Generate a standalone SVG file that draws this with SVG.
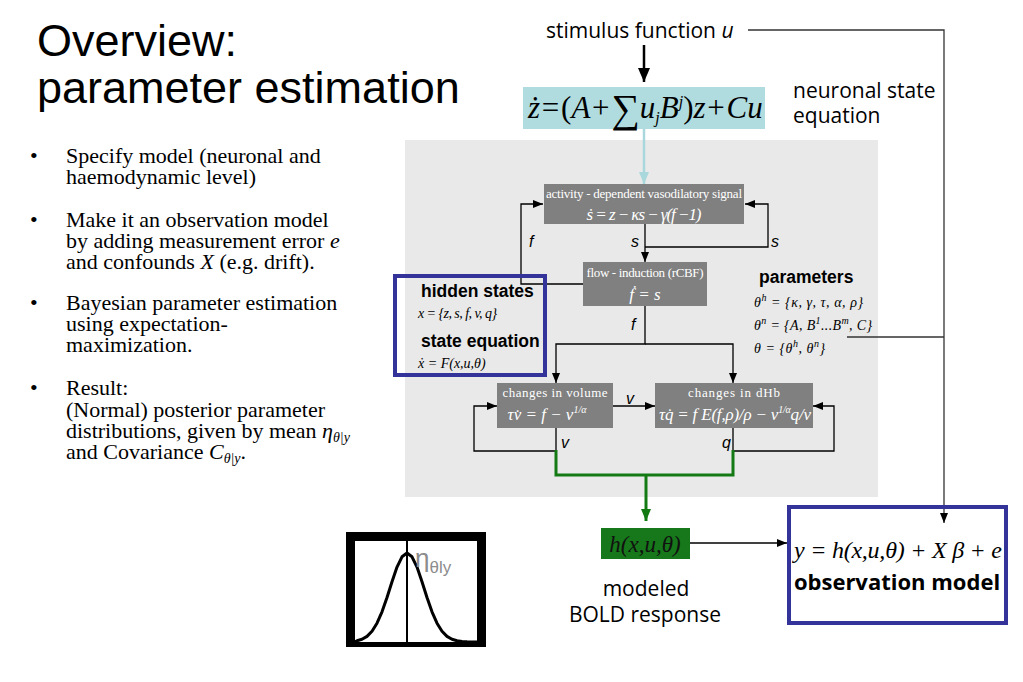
<svg xmlns="http://www.w3.org/2000/svg" width="1023" height="682" viewBox="0 0 1023 682">
<defs>
<marker id="ah" markerUnits="userSpaceOnUse" markerWidth="10" markerHeight="8" refX="10" refY="4" orient="auto"><path d="M0,0 L10,4 L0,8 z" fill="#000"/></marker>
<marker id="ahBig" markerUnits="userSpaceOnUse" markerWidth="14" markerHeight="12" refX="14" refY="6" orient="auto"><path d="M0,0 L14,6 L0,12 z" fill="#000"/></marker>
<marker id="ahG" markerUnits="userSpaceOnUse" markerWidth="12" markerHeight="10" refX="12" refY="5" orient="auto"><path d="M0,0 L12,5 L0,10 z" fill="#137a13"/></marker>
<marker id="ahC" markerUnits="userSpaceOnUse" markerWidth="12" markerHeight="10" refX="12" refY="5" orient="auto"><path d="M0,0 L12,5 L0,10 z" fill="#a8d8dc"/></marker>
</defs>
<style>
.title{font-family:"Liberation Sans",Arial,sans-serif;font-size:45px;fill:#000}
.bul{font-family:"Liberation Serif","Times New Roman",serif;font-size:22px;fill:#000}
.hum{font-family:"Open Sans","Noto Sans",sans-serif;font-size:21px;fill:#000}
.humb{font-family:"Open Sans","Noto Sans",sans-serif;font-size:22px;font-weight:bold;fill:#000}
.box{fill:#808080}
.bt{font-family:"Liberation Serif","Times New Roman",serif;font-size:13px;fill:#fff;text-anchor:middle}
.be{font-family:"Liberation Serif","Times New Roman",serif;font-size:17px;font-style:italic;fill:#fff;text-anchor:middle}
.lbl{font-family:"Liberation Sans",Arial,sans-serif;font-style:italic;font-size:16px;fill:#000}
.ln{stroke:#000;stroke-width:1.3;fill:none}
.lnr{stroke:#333;stroke-width:1.3;fill:none}
.gr{stroke:#137a13;stroke-width:3;fill:none}
.blue{fill:none;stroke:#333399;stroke-width:4}
.hs{font-family:"Liberation Sans",Arial,sans-serif;font-weight:bold;font-size:17.5px;fill:#000}
.m{font-family:"Liberation Serif","Times New Roman",serif;font-size:14px;font-style:italic;fill:#000}
.i{font-style:italic}
</style>
<rect x="0" y="0" width="1023" height="682" fill="#fff"/>

<g id="title">
<text class="title" x="37" y="56">Overview:</text>
<text class="title" x="37" y="103">parameter estimation</text>
</g>

<g id="bullets" class="bul">
<text x="30" y="163">•</text>
<text x="66" y="163">Specify model (neuronal and</text>
<text x="66" y="184">haemodynamic level)</text>
<text x="30" y="227">•</text>
<text x="66" y="227">Make it an observation model</text>
<text x="66" y="248">by adding measurement error <tspan class="i">e</tspan></text>
<text x="66" y="269">and confounds <tspan class="i">X</tspan> (e.g. drift).</text>
<text x="30" y="310">•</text>
<text x="66" y="310">Bayesian parameter estimation</text>
<text x="66" y="331">using expectation-</text>
<text x="66" y="352">maximization.</text>
<text x="30" y="395">•</text>
<text x="66" y="395">Result:</text>
<text x="66" y="417">(Normal) posterior parameter</text>
<text x="66" y="438">distributions, given by mean <tspan class="i">η</tspan><tspan class="i" font-size="14" dy="4">θ|y</tspan></text>
<text x="66" y="459">and Covariance <tspan class="i">C</tspan><tspan class="i" font-size="14" dy="4">θ|y</tspan><tspan dy="-4">.</tspan></text>
</g>

<rect id="panel" x="405" y="140" width="473" height="357" fill="#e9e9e9"/>

<g id="connectors">
<path class="lnr" d="M748,30 H944 V523" marker-end="url(#ah)"/>
<path class="lnr" d="M847,337 H944"/>
<path d="M644,45 V82" stroke="#000" stroke-width="2.5" fill="none" marker-end="url(#ahBig)"/>
<path d="M644,129 V184" stroke="#a8d8dc" stroke-width="2.5" fill="none" marker-end="url(#ahC)"/>
<path class="ln" d="M583,284 H521 V204 H543" marker-end="url(#ah)"/>
<path class="ln" d="M645,224 V262" marker-end="url(#ah)"/>
<path class="ln" d="M645,247 H768 V204 H745" marker-end="url(#ah)"/>
<path class="ln" d="M645,306 V344 H556 V383" marker-end="url(#ah)"/>
<path class="ln" d="M645,344 H733 V383" marker-end="url(#ah)"/>
<path class="ln" d="M613,406 H655" marker-end="url(#ah)"/>
<path class="ln" d="M556,428 V451 H474 V406 H497" marker-end="url(#ah)"/>
<path class="ln" d="M733,428 V451 H834 V406 H813" marker-end="url(#ah)"/>
<path class="gr" d="M556,450 V475 H733 V450"/>
<path class="gr" d="M646,475 V521" marker-end="url(#ahG)"/>
<path class="ln" d="M690,543 H787" marker-end="url(#ah)"/>
</g>

<g id="labels" class="lbl">
<text x="529" y="247">f</text>
<text x="631" y="247">s</text>
<text x="771" y="247">s</text>
<text x="631" y="330">f</text>
<text x="626" y="404">v</text>
<text x="561" y="448">v</text>
<text x="722" y="448">q</text>
</g>

<g id="stimulus">
<text class="hum" x="546" y="38">stimulus function <tspan class="i">u</tspan></text>
</g>

<g id="neuronal">
<rect x="523" y="87" width="242" height="42" fill="#b0dce0"/>
<text x="528" y="118" font-family="Liberation Serif,'Times New Roman',serif" font-size="31" word-spacing="-6"><tspan class="i">ż</tspan> = (<tspan class="i">A</tspan> + <tspan font-size="40" dy="4">∑</tspan><tspan class="i" dy="-4">u</tspan><tspan class="i" font-size="16" dy="5">j</tspan><tspan class="i" dy="-5">B</tspan><tspan class="i" font-size="16" dy="-11">j</tspan><tspan dy="11">)</tspan><tspan class="i">z</tspan> + <tspan class="i">Cu</tspan></text>
<text class="hum" x="793" y="98">neuronal state</text>
<text class="hum" x="793" y="123">equation</text>
</g>

<g id="activity">
<rect class="box" x="544" y="184" width="200" height="40"/>
<text class="bt" x="644" y="198" textLength="196">activity - dependent vasodilatory signal</text>
<text class="be" x="644" y="220" font-size="16" textLength="115">ṡ = z − κs − γ(f −1)</text>
</g>

<g id="flow">
<rect class="box" x="583" y="262" width="124" height="44"/>
<text class="bt" x="645" y="277" textLength="117">flow - induction (rCBF)</text>
<text class="be" x="645" y="300">ḟ = s</text>
</g>

<g id="volume">
<rect class="box" x="497" y="383" width="116" height="45"/>
<text class="bt" x="555" y="397" font-size="14" textLength="105">changes in volume</text>
<text class="be" x="547" y="420" font-size="16">τv̇ = f − v<tspan font-size="10" dy="-7">1/α</tspan></text>
</g>

<g id="dhb">
<rect class="box" x="655" y="383" width="158" height="45"/>
<text class="bt" x="734" y="397" font-size="14" textLength="92">changes in dHb</text>
<text class="be" x="735" y="420" font-size="16" textLength="152">τq̇ = f E(f,ρ)/ρ − v<tspan font-size="10" dy="-7">1/α</tspan><tspan dy="7">q/v</tspan></text>
</g>

<g id="hidden-states">
<rect class="blue" x="395" y="276" width="150" height="99"/>
<text class="hs" x="421" y="297">hidden states</text>
<text class="m" x="418" y="318" textLength="79">x = {z, s, f, v, q}</text>
<text class="hs" x="421" y="347">state equation</text>
<text class="m" x="418" y="368">ẋ = F(x,u,θ)</text>
</g>

<g id="parameters">
<text class="hs" x="759" y="283" font-size="19.5">parameters</text>
<text class="m" x="754" y="307" font-size="15" textLength="109">θ<tspan font-size="10" dy="-6">h</tspan><tspan dy="6"> = {κ, γ, τ, α, ρ}</tspan></text>
<text class="m" x="754" y="330" font-size="15" textLength="118">θ<tspan font-size="10" dy="-6">n</tspan><tspan dy="6"> = {A, B</tspan><tspan font-size="10" dy="-6">1</tspan><tspan dy="6">...B</tspan><tspan font-size="10" dy="-6">m</tspan><tspan dy="6">, C}</tspan></text>
<text class="m" x="754" y="353" font-size="15" textLength="71">θ = {θ<tspan font-size="10" dy="-6">h</tspan><tspan dy="6">, θ</tspan><tspan font-size="10" dy="-6">n</tspan><tspan dy="6">}</tspan></text>
</g>

<g id="bold">
<rect x="601" y="528" width="89" height="31" fill="#16781a"/>
<text x="645" y="552" font-family="Liberation Serif,'Times New Roman',serif" font-size="23" font-style="italic" text-anchor="middle" fill="#111">h(x,u,θ)</text>
<text class="hum" x="646" y="596" text-anchor="middle">modeled</text>
<text class="hum" x="645" y="622" text-anchor="middle">BOLD response</text>
</g>

<g id="observation">
<rect class="blue" x="789" y="507" width="217" height="116"/>
<text x="794" y="558" font-family="Liberation Serif,'Times New Roman',serif" font-size="24" font-style="italic" fill="#000" textLength="208">y = h(x,u,θ) + X β + e</text>
<text class="humb" x="897" y="590" text-anchor="middle">observation model</text>
</g>

<g id="posterior">
<path d="M346,532 H486 V647 H346 Z M355,541 V642 H477 V541 Z" fill="#000" fill-rule="evenodd"/>
<path d="M407,541 V642" stroke="#000" stroke-width="2" fill="none"/>
<polyline points="355,641.8 357,640.8 362,639.3 367,636.4 372,631.3 377,623.2 382,611.8 387,597.5 392,581.7 397,567.1 402,556.8 407,553 412,556.8 417,567.1 422,581.7 427,597.5 432,611.8 437,623.2 442,631.3 447,636.4 452,639.3 457,640.8 462,641.5 467,641.8 477,642" fill="none" stroke="#000" stroke-width="3" stroke-linejoin="round"/>
<text x="415" y="567" font-family="Liberation Sans,Arial,sans-serif" font-size="26" fill="#8c8c8c">η<tspan font-size="17" dy="6">θly</tspan></text>
</g>
</svg>
